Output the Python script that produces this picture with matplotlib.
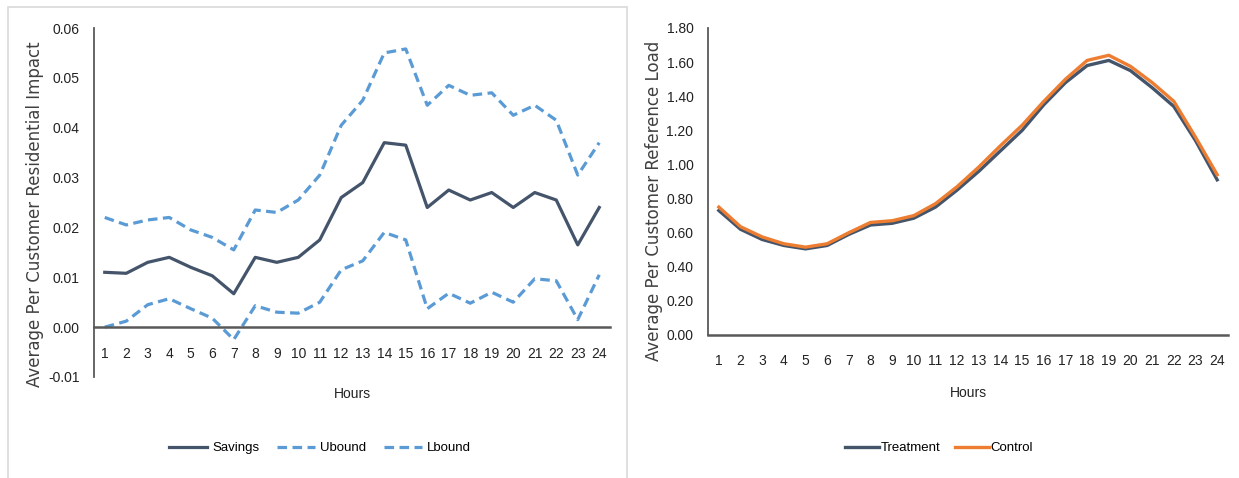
import matplotlib
matplotlib.use("Agg")
import matplotlib.pyplot as plt
from matplotlib.patches import Rectangle

hours = list(range(1, 25))

savings = [0.0110, 0.0108, 0.0130, 0.0140, 0.0120, 0.0103, 0.0067, 0.0140,
           0.0130, 0.0140, 0.0175, 0.0260, 0.0290, 0.0370, 0.0365, 0.0240,
           0.0275, 0.0255, 0.0270, 0.0240, 0.0270, 0.0255, 0.0165, 0.0240]
ubound = [0.0220, 0.0205, 0.0215, 0.0220, 0.0195, 0.0180, 0.0155, 0.0235,
          0.0230, 0.0255, 0.0305, 0.0405, 0.0455, 0.0550, 0.0558, 0.0445,
          0.0485, 0.0465, 0.0470, 0.0425, 0.0445, 0.0415, 0.0305, 0.0370]
lbound = [0.0000, 0.0012, 0.0045, 0.0057, 0.0037, 0.0018, -0.0025, 0.0043,
          0.0030, 0.0028, 0.0050, 0.0115, 0.0133, 0.0190, 0.0175, 0.0037,
          0.0068, 0.0048, 0.0070, 0.0050, 0.0097, 0.0093, 0.0015, 0.0105]

treatment = [0.73, 0.62, 0.56, 0.525, 0.505, 0.525, 0.59, 0.645, 0.655, 0.685,
             0.75, 0.85, 0.96, 1.08, 1.20, 1.35, 1.48, 1.58, 1.61, 1.55,
             1.45, 1.34, 1.14, 0.91]
control = [0.75, 0.635, 0.575, 0.535, 0.515, 0.535, 0.60, 0.66, 0.67, 0.70,
           0.77, 0.87, 0.985, 1.11, 1.23, 1.37, 1.50, 1.61, 1.64, 1.575,
           1.48, 1.37, 1.16, 0.94]

left_ticks = [-0.01, 0.00, 0.01, 0.02, 0.03, 0.04, 0.05, 0.06]
right_ticks = [0.0, 0.2, 0.4, 0.6, 0.8, 1.0, 1.2, 1.4, 1.6, 1.8]

SANS = "Liberation Sans"
SLATE = "#44546a"
BLUE = "#5b9bd5"
ORANGE = "#ed7d31"
AXIS = "#595959"

W, H = 1239, 478
fig = plt.figure(figsize=(W / 100, H / 100), dpi=100)

# light frame round the left chart
fig.patches.append(Rectangle((8 / W, -0.1), 619 / W, 1.1 - 7 / H,
                             transform=fig.transFigure, fill=False,
                             edgecolor="#d9d9d9", linewidth=1.2))


def style_axes(ax, ticks, fmt):
    for side in ["top", "right"]:
        ax.spines[side].set_visible(False)
    ax.spines["left"].set_color(AXIS)
    ax.spines["bottom"].set_color(AXIS)
    ax.spines["left"].set_linewidth(1.3)
    ax.spines["bottom"].set_linewidth(1.8)
    ax.spines["bottom"].set_position(("data", 0))
    ax.set_xlim(0.5, 24.5)
    ax.set_xticks(hours)
    ax.set_xticklabels([str(h) for h in hours], family=SANS, fontsize=10)
    ax.set_yticks(ticks)
    ax.set_yticklabels([fmt.format(t) for t in ticks], family=SANS, fontsize=10)
    ax.tick_params(axis="both", length=0, colors="#222222")
    ax.tick_params(axis="x", pad=14)
    ax.tick_params(axis="y", pad=10.5)


# left chart: savings with bounds
ax1 = fig.add_axes([94 / W, 1 - 377 / H, 516 / W, 349 / H])
ax1.plot(hours, ubound, color=BLUE, lw=2.3, dashes=(3, 1.7), label="Ubound")
ax1.plot(hours, lbound, color=BLUE, lw=2.3, dashes=(3, 1.7), label="Lbound")
ax1.plot(hours, savings, color=SLATE, lw=2.3, label="Savings")
ax1.set_ylim(-0.01, 0.06)
style_axes(ax1, left_ticks, "{:.2f}")

fig.text(35 / W, 1 - 214 / H, "Average Per Customer Residential Impact",
         rotation=90, ha="center", va="center", fontsize=12, color="#404040",
         family="DejaVu Sans")
fig.text(352 / W, 1 - 394 / H, "Hours", ha="center", va="center",
         fontsize=10, family=SANS, color="#222222")

h, l = ax1.get_legend_handles_labels()
order = [2, 0, 1]
fig.legend([h[i] for i in order], [l[i] for i in order], loc="center",
           bbox_to_anchor=(320 / W, 1 - 448 / H), ncol=3, frameon=False,
           handlelength=2.9, handletextpad=0.4, columnspacing=1.3,
           prop={"family": SANS, "size": 9.5})

# right chart: reference load
ax2 = fig.add_axes([708 / W, 1 - 335 / H, 520 / W, 307 / H])
ax2.plot(hours, treatment, color=SLATE, lw=2.4, label="Treatment")
ax2.plot(hours, control, color=ORANGE, lw=2.4, label="Control")
ax2.set_ylim(0, 1.8)
style_axes(ax2, right_ticks, "{:.2f}")

fig.text(654 / W, 1 - 201 / H, "Average Per Customer Reference Load",
         rotation=90, ha="center", va="center", fontsize=12, color="#404040",
         family="DejaVu Sans")
fig.text(968 / W, 1 - 393 / H, "Hours", ha="center", va="center",
         fontsize=10, family=SANS, color="#222222")

fig.legend(*ax2.get_legend_handles_labels(), loc="center",
           bbox_to_anchor=(939 / W, 1 - 448 / H), ncol=2, frameon=False,
           handlelength=2.6, handletextpad=0.1, columnspacing=1.1,
           prop={"family": SANS, "size": 9.5})

fig.savefig("out.png", dpi=100)
